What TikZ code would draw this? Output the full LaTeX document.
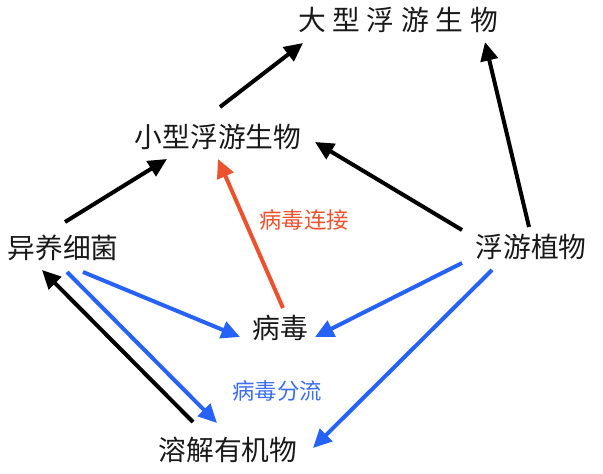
\documentclass[tikz,border=0pt]{standalone}
\usepackage{fontspec}
\newfontfamily\cjk{Noto Sans CJK SC}
\usetikzlibrary{arrows.meta}
\definecolor{redc}{RGB}{236,82,45}
\definecolor{bluec}{RGB}{38,98,245}
\definecolor{bluet}{RGB}{60,110,240}
\begin{document}
\begin{tikzpicture}[x=0.75pt,y=-0.75pt,
  lbl/.style={font=\cjk\fontsize{20.8pt}{24pt}\selectfont, inner sep=0pt, text=black!90},
  sublbl/.style={font=\cjk\fontsize{16.8pt}{19pt}\selectfont, inner sep=0pt},
  arr/.style={line width=3pt, -{Triangle[length=14pt,width=13pt]}},
  blk/.style={arr, draw=black},
  blu/.style={arr, draw=bluec},
  rd/.style={arr, draw=redc}]
\useasboundingbox (0,0) rectangle (603,474);
\node[lbl] (large) at (398,20) {大\kern.24em型\kern.24em浮\kern.24em游\kern.24em生\kern.24em物};
\node[lbl] (small) at (218,137) {小型浮游生物};
\node[lbl] (bact) at (63,248) {异养细菌};
\node[lbl] (phyto) at (531,247) {浮游植物};
\node[lbl] (virus) at (280,328) {病毒};
\node[lbl] (dom) at (228,450) {溶解有机物};
\node[sublbl, text=redc] (rlab) at (304,220) {病毒连接};
\node[sublbl, text=bluet] (blab) at (277,391) {病毒分流};
\draw[blk] ([shift={(2,-30)}]small.center) -- ([shift={(-95,23)}]large.center);
\draw[blk] ([shift={(-2,-20)}]phyto.center) -- ([shift={(87,22)}]large.center);
\draw[blk] ([shift={(-69,-17)}]phyto.center) -- ([shift={(97,5)}]small.center);
\draw[blk] ([shift={(2,-26)}]bact.center) -- ([shift={(-51,22)}]small.center);
\draw[rd] ([shift={(3,-20)}]virus.center) -- ([shift={(0,22)}]small.center);
\draw[blu] ([shift={(20,24)}]bact.center) -- ([shift={(-40,9)}]virus.center);
\draw[blu] ([shift={(4,24)}]bact.center) -- ([shift={(-11,-27)}]dom.center);
\draw[blk] ([shift={(-35,-28)}]dom.center) -- ([shift={(-21,22)}]bact.center);
\draw[blu] ([shift={(-69,16)}]phyto.center) -- ([shift={(35,9)}]virus.center);
\draw[blu] ([shift={(-39,23)}]phyto.center) -- ([shift={(85,-2)}]dom.center);
\end{tikzpicture}
\end{document}
